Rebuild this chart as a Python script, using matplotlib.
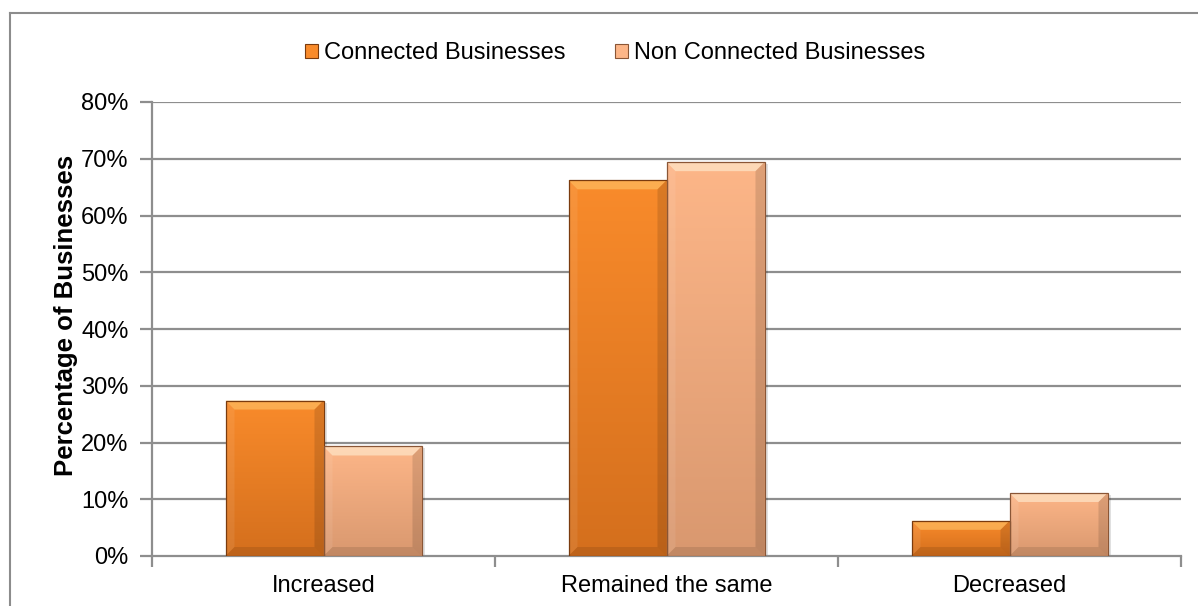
import numpy as np
import matplotlib.pyplot as plt
from matplotlib.patches import Polygon, Rectangle
from matplotlib.lines import Line2D
from matplotlib.colors import LinearSegmentedColormap

plt.rcParams['font.family'] = ['Liberation Sans', 'DejaVu Sans']

categories = ['Increased', 'Remained the same', 'Decreased']
series_names = ['Connected Businesses', 'Non Connected Businesses']
connected = [0.274, 0.662, 0.062]
non_connected = [0.193, 0.694, 0.111]
y_ticks = [0, 0.1, 0.2, 0.3, 0.4, 0.5, 0.6, 0.7, 0.8]

# top -> bottom gradient colours and edge colour for each series
styles = [
    dict(top='#f98b2b', bottom='#d46f1d', edge='#7a3b0e', light='#ffc56a'),
    dict(top='#fdb688', bottom='#d9986f', edge='#8a5636', light='#fff0d6'),
]

W, H = 1198, 606
fig = plt.figure(figsize=(W / 100, H / 100), dpi=100)
ax = fig.add_axes([152 / W, 1 - 556 / H, (1181 - 152) / W, (556 - 102) / H])

# outer chart frame (right and bottom edges fall outside the image)
frame = '#8c8c8c'
fig.add_artist(Line2D([10 / W, 1.2], [1 - 13 / H] * 2, color=frame, lw=1.5,
                      transform=fig.transFigure))
fig.add_artist(Line2D([10 / W] * 2, [1 - 13 / H, -0.2], color=frame, lw=1.5,
                      transform=fig.transFigure))

ax.set_xlim(-0.5, 2.5)
ax.set_ylim(0, 0.8)

grid_c = '#8e8e8e'
for t in y_ticks[1:]:
    ax.axhline(t, color=grid_c, lw=1.6, zorder=1)

x = np.arange(len(categories))
w = 1 / 3.5
px_x = 1 / 343.0
px_y = 0.1 / 56.75
bev = 9


def draw_bar(xc, h, st):
    x0, x1 = xc - w / 2, xc + w / 2
    # soft shadow to the right
    ax.add_patch(Rectangle((x0 + 3 * px_x, 0), w, h - 2 * px_y, color='#000000',
                           alpha=0.12, lw=0, zorder=2))
    rect = Rectangle((x0, 0), w, h, facecolor='none', edgecolor=st['edge'],
                     lw=0.9, zorder=4)
    ax.add_patch(rect)
    cmap = LinearSegmentedColormap.from_list('g', [st['bottom'], st['top']])
    grad = np.linspace(0, 1, 256).reshape(-1, 1)
    im = ax.imshow(grad, extent=[x0, x1, 0, h], origin='lower', cmap=cmap,
                   aspect='auto', zorder=3, interpolation='bilinear')
    im.set_clip_path(rect)
    bx, by = bev * px_x, bev * px_y
    by = min(by, h / 2.5)
    top = Polygon([(x0, h), (x1, h), (x1 - bx, h - by), (x0 + bx, h - by)],
                  closed=True, facecolor=st['light'], alpha=0.6, lw=0, zorder=3.5)
    left = Polygon([(x0, 0), (x0, h), (x0 + bx, h - by), (x0 + bx, by)],
                   closed=True, facecolor='white', alpha=0.08, lw=0, zorder=3.5)
    right = Polygon([(x1, 0), (x1, h), (x1 - bx, h - by), (x1 - bx, by)],
                    closed=True, facecolor='black', alpha=0.12, lw=0, zorder=3.5)
    bottom = Polygon([(x0, 0), (x1, 0), (x1 - bx, by), (x0 + bx, by)],
                     closed=True, facecolor='black', alpha=0.1, lw=0, zorder=3.5)
    for p in (top, left, right, bottom):
        ax.add_patch(p)


for i in range(len(categories)):
    draw_bar(x[i] - w / 2, connected[i], styles[0])
    draw_bar(x[i] + w / 2, non_connected[i], styles[1])

ax.set_xlim(-0.5, 2.5)
ax.set_ylim(0, 0.8)

for s in ('top', 'right'):
    ax.spines[s].set_visible(False)
for s in ('left', 'bottom'):
    ax.spines[s].set_color(grid_c)
    ax.spines[s].set_linewidth(1.6)

ax.set_yticks(y_ticks)
ax.set_yticklabels([f'{int(round(t * 100))}%' for t in y_ticks])
ax.tick_params(axis='y', length=9, width=1.6, color=grid_c, pad=8,
               labelsize=17, labelcolor='black')

ax.set_xticks(x)
ax.set_xticklabels(categories)
ax.set_xticks([-0.5, 0.5, 1.5, 2.5], minor=True)
ax.tick_params(axis='x', which='major', length=0, pad=14, labelsize=17)
ax.tick_params(axis='x', which='minor', length=8, width=1.6, color=grid_c)

ax.set_ylabel('Percentage of Businesses', fontsize=18.5, fontweight='bold')
ax.yaxis.set_label_coords((78 - 152) / 1029, 0.53)

handles = [Rectangle((0, 0), 1, 1, facecolor=st['top'], edgecolor=st['edge'], lw=0.8)
           for st in styles]
fig.legend(handles, series_names, loc='center', bbox_to_anchor=(615 / W, 1 - 53 / H),
           ncol=2, frameon=False, fontsize=17, handlelength=0.55, handleheight=0.55,
           handletextpad=0.25, columnspacing=2.1, borderaxespad=0)

fig.savefig('out.png', dpi=100)
